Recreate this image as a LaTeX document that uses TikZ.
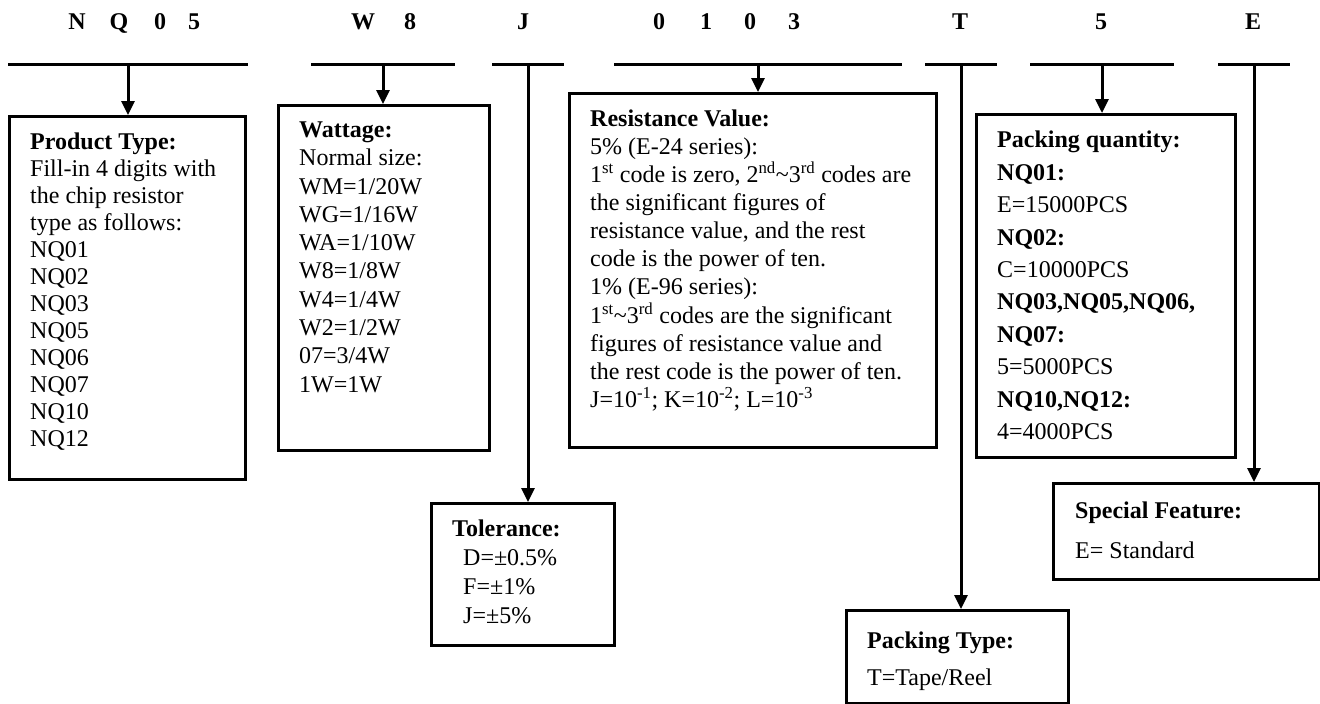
\documentclass[tikz,border=0pt]{standalone}
\usepackage{fontspec}
\setmainfont{Liberation Serif}
\usetikzlibrary{arrows.meta,positioning}

\tikzset{
  codechar/.style={anchor=base, inner sep=0pt, font=\bfseries\fontsize{24}{28}\selectfont},
  codebar/.style={fill=black, inner sep=0pt, minimum height=3pt},
  infobox/.style={draw, line width=3pt, anchor=north west, inner sep=0pt},
  boxtext/.style={anchor=north west, align=left, inner sep=0pt, font=\fontsize{24}{#1}\selectfont},
  boxtext/.default=28,
  pointer/.style={line width=3pt, -{Triangle[length=14pt,width=13pt]}}
}

\begin{document}
\begin{tikzpicture}[x=1pt, y=-1pt]

  \useasboundingbox (0,0) rectangle (1320,704);

  % part number
  \foreach \hx/\hc [count=\i] in {77/N,119/Q,160/0,194/5,363/W,410/8,523/J,659/0,706/1,750/0,794/3,960/T,1101/5,1253/E}
    \node[codechar] (hdr\i) at (\hx,29) {\hc};

  \node[codebar, minimum width=240pt] (barType) at (128,64) {};
  \node[codebar, minimum width=144pt] (barWatt) at (383,64) {};
  \node[codebar, minimum width=72pt] (barTol) at (528,64) {};
  \node[codebar, minimum width=288pt] (barRes) at (758,64) {};
  \node[codebar, minimum width=72pt] (barPack) at (961,64) {};
  \node[codebar, minimum width=144pt] (barQty) at (1102,64) {};
  \node[codebar, minimum width=72pt] (barSpec) at (1254,64) {};

  % boxes
  \node[infobox, minimum width=236pt, minimum height=363pt] (ptype) at (8,115) {};
  \node[infobox, minimum width=211pt, minimum height=345pt] (watt) at (277,104) {};
  \node[infobox, minimum width=183pt, minimum height=142pt] (tol) at (430,502) {};
  \node[infobox, minimum width=367pt, minimum height=354pt] (res) at (568,92) {};
  \node[infobox, minimum width=222pt, minimum height=93pt] (pack) at (845,609) {};
  \node[infobox, minimum width=259pt, minimum height=343pt] (qty) at (975,113) {};
  \node[infobox, minimum width=266pt, minimum height=96pt] (spec) at (1052,482) {};

  \node[boxtext=27] (ptypetxt) at ([shift={(22,17.5)}]ptype.north west)
    {\textbf{Product Type:}\\ Fill-in 4 digits with\\ the chip resistor\\ type as follows:\\
     NQ01\\ NQ02\\ NQ03\\ NQ05\\ NQ06\\ NQ07\\ NQ10\\ NQ12};
  \node[boxtext=28.3] (watttxt) at ([shift={(22,17.5)}]watt.north west)
    {\textbf{Wattage:}\\ Normal size:\\ WM=1/20W\\ WG=1/16W\\ WA=1/10W\\ W8=1/8W\\
     W4=1/4W\\ W2=1/2W\\ 07=3/4W\\ 1W=1W};
  \node[boxtext=29] (toltxt) at ([shift={(22,18)}]tol.north west)
    {\textbf{Tolerance:}\\ \hspace{11pt}D=±0.5\%\\ \hspace{11pt}F=±1\%\\ \hspace{11pt}J=±5\%};
  \node[boxtext=28.1] (restxt) at ([shift={(22,17.5)}]res.north west)
    {\textbf{Resistance Value:}\\ 5\% (E-24 series):\\
     1\textsuperscript{st} code is zero, 2\textsuperscript{nd}\textasciitilde3\textsuperscript{rd} codes are\\
     the significant figures of\\ resistance value, and the rest\\ code is the power of ten.\\
     1\% (E-96 series):\\ 1\textsuperscript{st}\textasciitilde3\textsuperscript{rd} codes are the significant\\
     figures of resistance value and\\ the rest code is the power of ten.\\
     J=10\textsuperscript{-1}; K=10\textsuperscript{-2}; L=10\textsuperscript{-3}};
  \node[boxtext=37] (packtxt) at ([shift={(22,23)}]pack.north west)
    {\textbf{Packing Type:}\\ T=Tape/Reel};
  \node[boxtext=32.4] (qtytxt) at ([shift={(22,18)}]qty.north west)
    {\textbf{Packing quantity:}\\ \textbf{NQ01:}\\ E=15000PCS\\ \textbf{NQ02:}\\ C=10000PCS\\
     \textbf{NQ03,NQ05,NQ06,}\\ \textbf{NQ07:}\\ 5=5000PCS\\ \textbf{NQ10,NQ12:}\\ 4=4000PCS};
  \node[boxtext=40] (spectxt) at ([shift={(23,20)}]spec.north west)
    {\textbf{Special Feature:}\\ E= Standard};

  % connectors
  \draw[pointer] (barType.center) -- (barType.center |- ptype.north);
  \draw[pointer] (barWatt.center) -- (barWatt.center |- watt.north);
  \draw[pointer] (barTol.center) -- (barTol.center |- tol.north);
  \draw[pointer] (barRes.center) -- (barRes.center |- res.north);
  \draw[pointer] (barPack.center) -- (barPack.center |- pack.north);
  \draw[pointer] (barQty.center) -- (barQty.center |- qty.north);
  \draw[pointer] (barSpec.center) -- (barSpec.center |- spec.north);

\end{tikzpicture}
\end{document}
